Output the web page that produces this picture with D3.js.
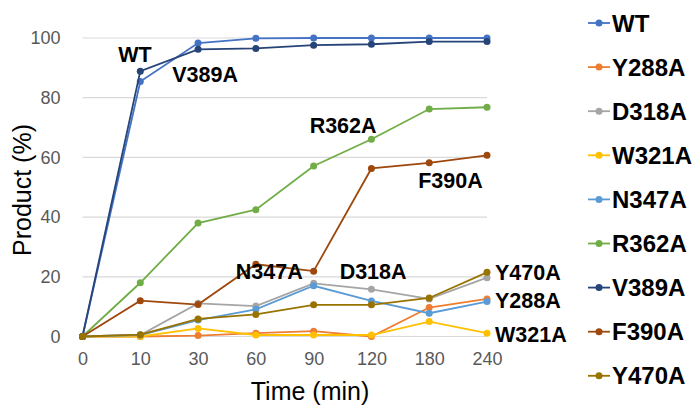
<!DOCTYPE html>
<html>
<head>
<meta charset="utf-8">
<script src="https://cdn.jsdelivr.net/npm/d3@7"></script>
<style>
  html, body { margin: 0; padding: 0; background: #fff; }
  svg { display: block; }
</style>
</head>
<body>
<svg id="chart" width="697" height="406"></svg>
<script>
// Reaction time points (min)
const times = ["0", "10", "30", "60", "90", "120", "180", "240"];

// Product (%) for each enzyme variant
const WT    = [0, 85.4, 98.3, 99.9, 100, 100, 100, 100];
const Y288A = [0, 0, 0.3, 1.1, 1.8, 0, 9.7, 12.6];
const D318A = [0, 0.5, 11.1, 10.2, 17.8, 15.8, 12.6, 19.7];
const W321A = [0, 0, 2.7, 0.5, 0.5, 0.5, 5.0, 1.1];
const N347A = [0, 0.5, 5.5, 9.1, 17.0, 11.9, 7.8, 11.7];
const R362A = [0, 18.0, 38.0, 42.5, 57.1, 66.1, 76.2, 76.8];
const V389A = [0, 88.9, 96.2, 96.5, 97.6, 97.9, 98.8, 98.8];
const F390A = [0, 12.0, 10.7, 24.2, 21.9, 56.3, 58.2, 60.7];
const Y470A = [0, 0.6, 5.9, 7.4, 10.6, 10.6, 12.9, 21.5];

const seriesNames = ["WT", "Y288A", "D318A", "W321A", "N347A", "R362A", "V389A", "F390A", "Y470A"];
const seriesValues = [WT, Y288A, D318A, W321A, N347A, R362A, V389A, F390A, Y470A];
const seriesColors = ["#4472C4", "#ED7D31", "#A5A5A5", "#FFC000", "#5B9BD5", "#70AD47", "#264478", "#9E480E", "#997300"];

const yTicks = [0, 20, 40, 60, 80, 100];

const series = seriesNames.map((name, i) => ({
  name, color: seriesColors[i],
  values: seriesValues[i].map((v, j) => ({ t: times[j], v }))
}));

const FONT = "'Liberation Sans', Arial, sans-serif";
const svg = d3.select("#chart");
const plot = { left: 82.5, right: 487, top: 38, bottom: 336.5 };

const x = d3.scalePoint().domain(times).range([plot.left, plot.right]).padding(0);
const y = d3.scaleLinear().domain([0, 100]).range([plot.bottom, plot.top]);

// Horizontal gridlines
svg.append("g")
  .selectAll("line")
  .data(yTicks)
  .join("line")
  .attr("x1", plot.left).attr("x2", plot.right)
  .attr("y1", d => y(d)).attr("y2", d => y(d))
  .attr("stroke", "#D9D9D9").attr("stroke-width", 1.2);

// Y axis labels
const yAxis = svg.append("g")
  .attr("transform", `translate(${plot.left},0)`)
  .call(d3.axisLeft(y).tickValues(yTicks).tickSize(0).tickPadding(22));
yAxis.select(".domain").remove();
yAxis.selectAll("text")
  .attr("fill", "#595959")
  .style("font-family", FONT)
  .style("font-size", "18px");

// X axis labels
const xAxis = svg.append("g")
  .attr("transform", `translate(0,${plot.bottom})`)
  .call(d3.axisBottom(x).tickSize(0).tickPadding(16));
xAxis.select(".domain").remove();
xAxis.selectAll("text")
  .attr("fill", "#595959")
  .style("font-family", FONT)
  .style("font-size", "18px");

// Axis titles
svg.append("text")
  .attr("x", 310).attr("y", 400)
  .attr("text-anchor", "middle")
  .attr("fill", "#000")
  .style("font-family", FONT)
  .style("font-size", "25px")
  .text("Time (min)");

svg.append("text")
  .attr("transform", "translate(31,190) rotate(-90)")
  .attr("text-anchor", "middle")
  .attr("fill", "#000")
  .style("font-family", FONT)
  .style("font-size", "25px")
  .text("Product (%)");

// Lines and markers
const line = d3.line().x(d => x(d.t)).y(d => y(d.v));
const g = svg.append("g");
series.forEach(s => {
  const sg = g.append("g");
  sg.append("path")
    .attr("d", line(s.values))
    .attr("fill", "none")
    .attr("stroke", s.color)
    .attr("stroke-width", 1.8);
  sg.selectAll("circle")
    .data(s.values)
    .join("circle")
    .attr("cx", d => x(d.t)).attr("cy", d => y(d.v))
    .attr("r", 3.5)
    .attr("fill", s.color);
});

// Series name labels, placed next to a chosen point of each curve
const annotations = [
  { name: "WT",    at: "10",  dx: -22, dy: -20 },
  { name: "V389A", at: "10",  dx: 32,  dy: 11 },
  { name: "R362A", at: "90",  dx: -4,  dy: -33 },
  { name: "F390A", at: "180", dx: -11, dy: 25 },
  { name: "N347A", at: "60",  dx: -20, dy: -30 },
  { name: "D318A", at: "90",  dx: 26,  dy: -4 },
  { name: "Y470A", at: "240", dx: 8,   dy: 8 },
  { name: "Y288A", at: "240", dx: 8,   dy: 9 },
  { name: "W321A", at: "240", dx: 8,   dy: 9 }
];
svg.append("g")
  .selectAll("text")
  .data(annotations)
  .join("text")
  .attr("x", d => x(d.at) + d.dx)
  .attr("y", d => {
    const s = series.find(q => q.name === d.name);
    return y(s.values[times.indexOf(d.at)].v) + d.dy;
  })
  .attr("fill", "#000")
  .style("font-family", FONT)
  .style("font-size", "21.5px")
  .style("font-weight", "bold")
  .text(d => d.name);

// Legend
const legend = svg.append("g").attr("transform", "translate(588,23)");
const item = legend.selectAll("g")
  .data(series)
  .join("g")
  .attr("transform", (d, i) => `translate(0,${i * 44.1})`);
item.append("line")
  .attr("x1", 0).attr("x2", 22).attr("y1", 0).attr("y2", 0)
  .attr("stroke", d => d.color).attr("stroke-width", 1.8);
item.append("circle")
  .attr("cx", 11).attr("cy", 0).attr("r", 3.5)
  .attr("fill", d => d.color);
item.append("text")
  .attr("x", 24).attr("y", 8.5)
  .attr("fill", "#000")
  .style("font-family", FONT)
  .style("font-size", "24px")
  .style("font-weight", "bold")
  .text(d => d.name);
</script>
</body>
</html>
